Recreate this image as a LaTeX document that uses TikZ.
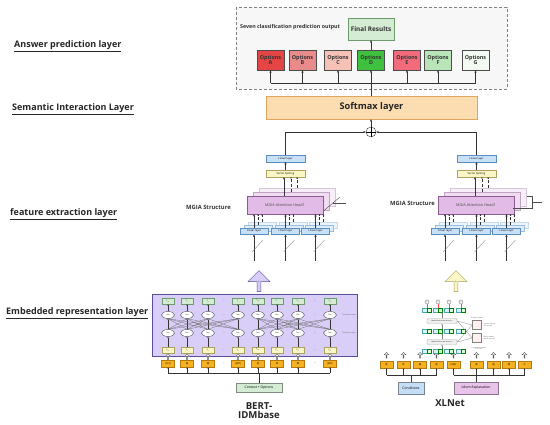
\documentclass[tikz,border=0pt]{standalone}
\usepackage{fontspec}
\setmainfont{Open Sans}
\newfontfamily\cjk{Noto Sans CJK SC}
\usetikzlibrary{arrows.meta,shapes.arrows,shapes.geometric}

\newcommand{\fsz}[1]{\fontsize{#1}{#1}\selectfont}

\definecolor{optA}{HTML}{E64545}
\definecolor{optB}{HTML}{E98B8B}
\definecolor{optC}{HTML}{F6C1B7}
\definecolor{optD}{HTML}{3FC13F}
\definecolor{optE}{HTML}{F26B7D}
\definecolor{optF}{HTML}{B9E5B9}
\definecolor{optG}{HTML}{F3F9F3}
\definecolor{softfill}{HTML}{FCDDB2}
\definecolor{softline}{HTML}{E2A55C}
\definecolor{linfill}{HTML}{C9E1F6}
\definecolor{linline}{HTML}{5B8FC3}
\definecolor{splfill}{HTML}{FBF6C6}
\definecolor{splline}{HTML}{ABA35E}
\definecolor{headfill}{HTML}{E2BCE6}
\definecolor{headline}{HTML}{8B5C92}
\definecolor{bertfill}{HTML}{D9CEF7}
\definecolor{bertline}{HTML}{5B4B9B}
\definecolor{grnfill}{HTML}{D4EBD4}
\definecolor{grnline}{HTML}{6E9B6E}
\definecolor{orgfill}{HTML}{F5B120}
\definecolor{orgline}{HTML}{B37A0E}
\definecolor{condfill}{HTML}{C6DEF5}
\definecolor{idiomfill}{HTML}{E8C3EA}

\begin{document}
\begin{tikzpicture}[x=1pt,y=-1pt,
  arr/.style={-{Stealth[length=2.6pt,width=2.2pt]},line width=0.5pt,draw=black!80},
  sarr/.style={-{Stealth[length=1.6pt,width=1.4pt]},line width=0.35pt,draw=black!80},
  darr/.style={sarr,densely dashed},
  lay/.style={anchor=west,inner sep=0pt,font=\bfseries\fsz{9},text=black!85},
  opt/.style={draw=gray!60!black,fill=#1,minimum width=27pt,minimum height=20pt,inner sep=0pt,align=center,font=\bfseries\fsz{5.4},text=black!80},
  lin/.style={draw=linline,fill=linfill,minimum width=#1,minimum height=6.5pt,inner sep=0pt,font=\fsz{2.6}},
  spl/.style={draw=splline,fill=splfill,minimum width=39pt,minimum height=7pt,inner sep=0pt,font=\fsz{2.6}},
  head/.style={draw=headline,fill=headfill,minimum width=76pt,minimum height=18pt,inner sep=0pt,font=\fsz{3.8},text=black!70},
  gbox/.style={draw=grnline,fill=grnfill,minimum width=12pt,minimum height=6pt,inner sep=0pt,font=\fsz{1.8}},
  ybox/.style={draw=splline,fill=splfill,minimum width=12pt,minimum height=6pt,inner sep=0pt,font=\fsz{1.8}},
  trm/.style={ellipse,draw=gray!60!black,fill=white,minimum width=13pt,minimum height=7pt,inner sep=0pt,font=\fsz{1.8}},
  tok/.style={draw=orgline,fill=orgfill,minimum width=13pt,minimum height=7pt,inner sep=0pt,font=\cjk\fsz{2.3}},
  hol/.style={single arrow,draw=gray!70!black,fill=white,shape border rotate=90,minimum height=6pt,minimum width=5pt,single arrow head extend=1pt,inner sep=0pt},
  src/.style={draw=#1!60!black,fill=#1,minimum height=12pt,inner sep=1pt,font=\fsz{3.4}},
  tiny/.style={font=\fsz{1.6},inner sep=0.3pt,text=black!70},
  dots/.style={font=\fsz{3},inner sep=0pt,text=black!60}
]
\useasboundingbox[fill=white] (0,0) rectangle (550,425);

% layer names
\node[lay] (l1) at (14,46) {\underline{Answer prediction layer}};
\node[lay] (l2) at (12,109) {\underline{Semantic Interaction Layer}};
\node[lay] (l3) at (10,214) {\underline{feature extraction layer}};
\node[lay] (l4) at (6,313) {\underline{Embedded representation layer}};

% answer prediction
\draw[densely dashed,gray,fill=gray!6] (236,7) rectangle (507,89);
\node[anchor=west,inner sep=0pt,font=\bfseries\fsz{5.3},text=black!80] (seven) at (240,27) {Seven classification prediction output};
\node[draw=grnline,fill=grnfill,minimum width=46pt,minimum height=22pt,inner sep=0pt,font=\bfseries\fsz{6.4},text=black!80] (final) at (371,29) {Final Results};
\node[opt=optA] (oA) at (270.5,60) {Options\\A};
\node[opt=optB] (oB) at (302.5,60) {Options\\B};
\node[opt=optC] (oC) at (338,60) {Options\\C};
\node[opt=optD] (oD) at (371,60) {Options\\D};
\node[opt=optE] (oE) at (407,60) {Options\\E};
\node[opt=optF] (oF) at (438,60) {Options\\F};
\node[opt=optG] (oG) at (475.5,60) {Options\\G};
\coordinate (bus) at (371,83);
\draw[line width=0.5pt,black!80] (oA.south |- bus) -- (oG.south |- bus);
\foreach \o in {oA,oB,oC,oE,oF,oG}
  \draw[arr] (\o.south |- bus) -- (\o.south);
\draw[arr] (oD.north) -- (final.south);

% semantic interaction
\node[draw=softline,fill=softfill,minimum width=211pt,minimum height=23pt,inner sep=0pt,font=\bfseries\fsz{9.2},text=black!85] (soft) at (371.5,107.5) {Softmax layer};
\draw[arr] (soft.north -| oD) -- (oD.south);
\node[circle,draw=black!80,fill=white,minimum size=10pt,inner sep=0pt] (plus) at (371,132) {};
\draw[line width=0.5pt] (plus.north) -- (plus.south) (plus.west) -- (plus.east);
\draw[arr] (plus.north) -- (soft.south -| plus);

% MGIA structures
\foreach \s/\n in {0/L,191/R}{
\begin{scope}[shift={(\s,0)}]
  \node[lin=39pt] (top\n) at (285.5,158.5) {Linear layer};
  \node[spl] (spl\n) at (285.5,173.5) {Vector Splicing};
  \draw[arr] (spl\n.north) -- (top\n.south);
  \draw[draw=headline!35,fill=headfill!25] (259,188) rectangle (335,206);
  \draw[draw=headline!55,fill=headfill!50] (253,192) rectangle (329,210);
  \node[head] (head\n) at (285,205) {MGIA Attention Head1};
  \draw[arr] (284,196) -- (284,177);
  \draw[darr] (291,192) -- (291,177);
  \draw[darr] (297,188) -- (297,177);
  \foreach \x [count=\i] in {254,285.5,315.5}{
    \draw[draw=linline!35,fill=linfill!35] (\x-6,222) rectangle (\x+22,228);
    \draw[draw=linline!60,fill=linfill!60] (\x-10,225) rectangle (\x+18,231);
    \node[lin=28pt] (in\n\i) at (\x,231) {Linear layer};
    \draw[arr] (in\n\i.north) -- (\x,214);
    \draw[darr] (\x+4,225) -- (\x+4,214);
    \draw[darr] (\x+8,222) -- (\x+8,214);
    \coordinate (q\n\i) at (\x,261);
    \draw[arr] (q\n\i) -- (in\n\i.south);
    \draw[gray,line width=0.3pt] (\x-2,252) -- (\x+9,240);
    \node[dots] at (\x,263.5) {·};
  }
\end{scope}}
\draw[arr] (topL.north) |- (plus.west);
\draw[arr] (topR.north) |- (plus.east);
\node[anchor=west,inner sep=0pt,font=\bfseries\fsz{5.8},text=black!80] (mgL) at (186,207) {MGIA Structure};
\node[anchor=west,inner sep=0pt,font=\bfseries\fsz{5.8},text=black!80] (mgR) at (390,203) {MGIA Structure};
\draw[line width=0.4pt,black!70] (headL.south east) ++(0,-3) -- (340,197);
\draw[line width=0.3pt,black!70] (333,203) -- (346,203) node[dots,right] {-};
\draw[line width=0.4pt,black!70] (513,208) -- (532,208) -- (532,196) -- (527,196);
\draw[line width=0.3pt,black!70] (532,202) -- (542,202) node[dots,right] {-};

% big arrows
\node[single arrow,draw=bertline,fill=bertfill,shape border rotate=90,minimum height=21pt,minimum width=22pt,single arrow head extend=4pt,inner sep=0pt,font=\fsz{2}] (upL) at (259,282) {h};
\node[single arrow,draw=splline,fill=splfill,shape border rotate=90,minimum height=21pt,minimum width=22pt,single arrow head extend=4pt,inner sep=0pt,font=\fsz{2}] (upR) at (456,282) {h};

% BERT-IDMbase
\draw[draw=bertline,fill=bertfill,line width=0.5pt] (152,294) rectangle (357,356);
\foreach \x/\tv/\ev/\kv [count=\i] in {168/T\textsubscript{cls}/E\textsubscript{cls}/[CLS],187/T\textsubscript{1}/E\textsubscript{1}/语,208/T\textsubscript{2}/E\textsubscript{2}/境,238/T\textsubscript{n}/E\textsubscript{n}/[SEP],258/T\textsubscript{sep}/E\textsubscript{sep}/选,277/T'\textsubscript{1}/E'\textsubscript{1}/项,298/T'\textsubscript{2}/E'\textsubscript{2}/释,330/T'\textsubscript{m}/E'\textsubscript{m}/[SEP]}{
  \node[gbox] (bt\i) at (\x,301) {\tv};
  \node[trm] (bu\i) at (\x,315) {Trm};
  \node[trm] (bl\i) at (\x,333) {Trm};
  \node[ybox] (be\i) at (\x,350) {\ev};
  \node[tok] (bk\i) at (\x,363.5) {\kv};
  \node[hol] at (\x,357) {};
  \draw[sarr] (bu\i) -- (bt\i);
  \draw[sarr] (bl\i) -- (bu\i);
  \draw[sarr] (be\i) -- (bl\i);
}
\foreach \a in {1,...,4}{
  \foreach \b in {1,...,4}{
    \ifnum\a=\b\else
      \draw[line width=0.25pt,black!60] (bl\a.north) -- (bu\b.south);
      \pgfmathtruncatemacro{\c}{\a+4}\pgfmathtruncatemacro{\d}{\b+4}
      \draw[line width=0.25pt,black!60] (bl\c.north) -- (bu\d.south);
    \fi
  }
}
\foreach \y in {301,315,333,350,363.5}{
  \node[dots] at (224,\y) {...};
  \node[dots] at (315,\y) {...};
}
\node[tiny,anchor=west] at (342,315) {Transformer layer};
\node[tiny,anchor=west] at (342,333) {Transformer layer};
\node[src=grnfill,minimum width=46pt,minimum height=9pt] (ctx) at (259,387.5) {Context + Options};
\coordinate (bbus) at (258,373);
\draw[line width=0.4pt,black!80] (bk1.south |- bbus) -- (bk8.south |- bbus);
\draw[line width=0.4pt,black!80] (ctx.north) -- (ctx.north |- bbus);
\foreach \i in {1,...,8}
  \draw[sarr] (bk\i.south |- bbus) -- (bk\i.south);
\node[font=\bfseries\fsz{9.6},align=center,text=black!85,inner sep=0pt] (bert) at (259,410.5) {BERT-\\IDMbase};

% XLNet
\foreach \x/\kv [count=\i] in {386.5/条,403.5/件,420/描,436.5/述,453.5/[SEP],476.5/成,493.5/语,509/释,524.5/义}{
  \node[tok] (xk\i) at (\x,364.5) {\kv};
  \node[hol] at (\x,355.5) {};
}
\node[dots] at (466,364.5) {...};
\node[src=condfill,minimum width=26pt] (cond) at (411,388) {Conditions};
\node[src=idiomfill,minimum width=44pt] (idiom) at (476,388) {Idiom Explanation};
\coordinate (xbus) at (411,375);
\draw[line width=0.4pt,black!80] (xk1.south |- xbus) -- (xk4.south |- xbus);
\draw[line width=0.4pt,black!80] (xk5.south |- xbus) -- (xk9.south |- xbus);
\draw[line width=0.4pt,black!80] (cond.north) -- (cond.north |- xbus);
\draw[line width=0.4pt,black!80] (idiom.north) -- (idiom.north |- xbus);
\foreach \i in {1,...,9}
  \draw[sarr] (xk\i.south |- xbus) -- (xk\i.south);
\node[font=\bfseries\fsz{9.6},text=black!85,inner sep=0pt] (xl) at (450,403) {XLNet};

% XLNet inner sketch
\foreach \x [count=\i] in {427,438,449,461}{
  \node[circle,draw=gray,fill=white,minimum size=4pt,inner sep=0pt,font=\fsz{1.4}] (xc\i) at (\x,302) {h};
  \foreach \y in {310,331,351}{
    \draw[draw=teal!70,fill=cyan!15,line width=0.2pt] (\x-4.5,\y-1.8) rectangle (\x-0.3,\y+1.8);
    \draw[draw=green!50!black,fill=green!15,line width=0.2pt] (\x+0.3,\y-1.8) rectangle (\x+4.5,\y+1.8);
  }
  \draw[red!70,line width=0.25pt] (xc\i.south) -- (\x,308.2);
}
\node[rounded corners=1pt,draw=gray!60,fill=gray!12,minimum width=30pt,minimum height=5pt,inner sep=0pt,font=\fsz{1.5}] (att1) at (442,321) {Masked Two-stream Attention};
\node[rounded corners=1pt,draw=gray!60,fill=gray!12,minimum width=30pt,minimum height=5pt,inner sep=0pt,font=\fsz{1.5}] (att2) at (442,342) {Masked Two-stream Attention};
\draw[sarr,gray] (att1.north) -- (442,312);
\draw[sarr,gray] (442,329) -- (att1.south);
\draw[sarr,gray] (att2.north) -- (442,333);
\draw[sarr,gray] (442,349) -- (att2.south);
\node[draw=gray,fill=white,minimum size=9pt,inner sep=0pt] (g1) at (477,325) {};
\node[draw=gray,fill=white,minimum size=9pt,inner sep=0pt] (g2) at (477,338) {};
\foreach \g in {g1,g2}
  \foreach \u in {-3,-1,1,3}
    \foreach \v in {-3,-1,1,3}
      \fill[red!75] (\g) ++(\u,\v) circle (0.4);
\draw[gray,line width=0.25pt] (att1.east) -- (g1.west) (att1.east) -- (g2.west) (att2.east) -- (g1.west) (att2.east) -- (g2.west);
\node[tiny] at (477,318) {Attention Masks};
\node[tiny,anchor=west,align=left] at (483,325) {Content stream:\\can see self};
\node[tiny,anchor=west,align=left] at (483,338) {Query stream:\\cannot see self};
\node[tiny,align=center] at (479,348.5) {Factorization order:\\3{\cjk →}2{\cjk →}4{\cjk →}1};
\end{tikzpicture}
\end{document}
